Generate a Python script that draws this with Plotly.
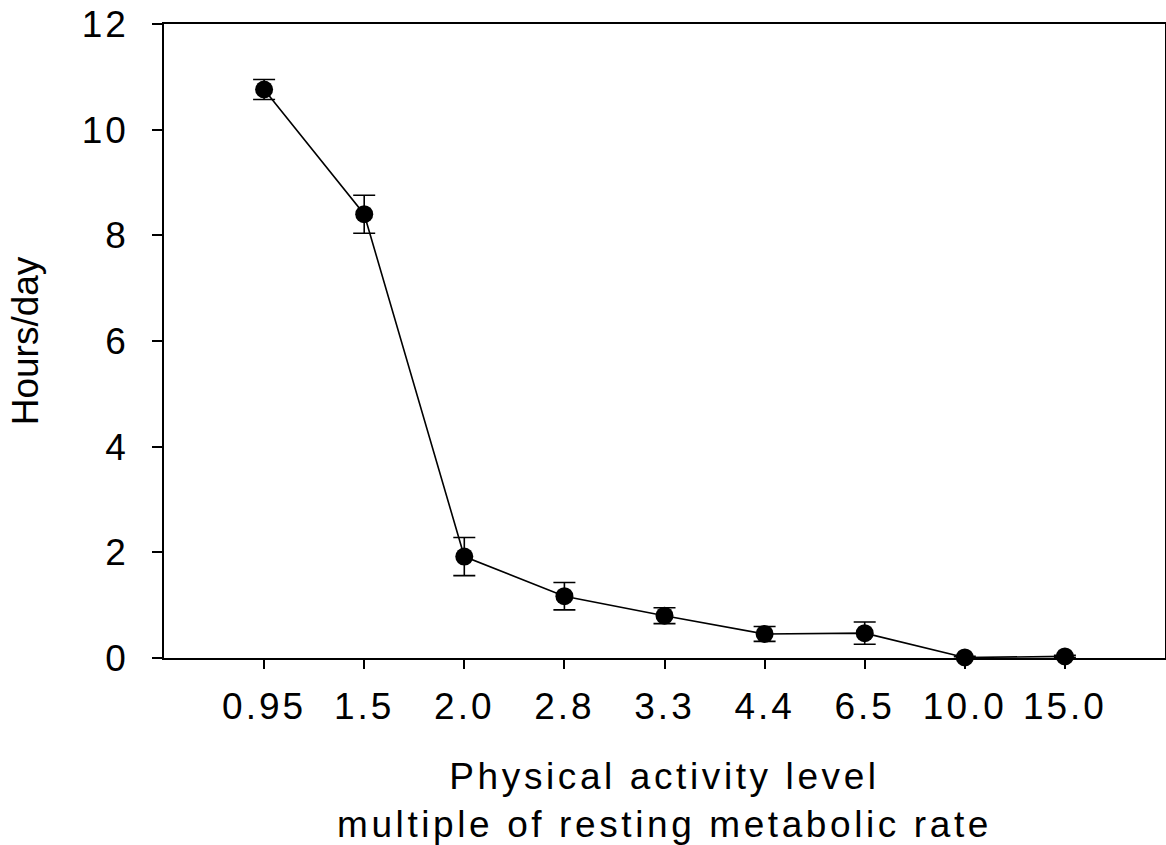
import plotly.graph_objects as go

categories = ["0.95", "1.5", "2.0", "2.8", "3.3", "4.4", "6.5", "10.0", "15.0"]
hours = [10.76, 8.40, 1.92, 1.17, 0.80, 0.455, 0.47, 0.01, 0.03]
errors = [0.19, 0.36, 0.36, 0.26, 0.15, 0.14, 0.21, 0.02, 0.02]
y_ticks = [0, 2, 4, 6, 8, 10, 12]

FONT = "Liberation Sans, Arial, sans-serif"

fig = go.Figure()
fig.add_trace(go.Scatter(
    x=categories,
    y=hours,
    mode="lines+markers",
    line=dict(color="black", width=1.6),
    marker=dict(color="black", size=18, symbol="circle"),
    error_y=dict(type="data", array=errors, visible=True,
                 color="black", thickness=1.6, width=11),
    cliponaxis=False,
    showlegend=False,
))

fig.update_layout(
    width=1166, height=845,
    margin=dict(l=164, r=1, t=24, b=187, autoexpand=False),
    paper_bgcolor="white",
    plot_bgcolor="white",
    font=dict(family=FONT, size=37, color="black"),
)

fig.update_xaxes(
    type="category",
    categoryorder="array",
    categoryarray=categories,
    range=[-1, 9],
    showgrid=False, zeroline=False,
    showline=True, linecolor="black", linewidth=1.6, mirror=True,
    ticks="outside", ticklen=9, tickwidth=1.6, tickcolor="black",
    ticklabelstandoff=6,
    tickfont=dict(family=FONT, size=37),
    title=dict(text="Physical activity level<br>multiple of resting metabolic rate",
               font=dict(family=FONT, size=37), standoff=50),
)

fig.update_yaxes(
    range=[0, 12],
    tickvals=y_ticks,
    ticktext=[str(v) for v in y_ticks],
    showgrid=False, zeroline=False,
    showline=True, linecolor="black", linewidth=1.6, mirror=True,
    ticks="outside", ticklen=10, tickwidth=1.6, tickcolor="black",
    ticklabelstandoff=16,
    tickfont=dict(family=FONT, size=37),
    title=dict(text="Hours/day", font=dict(family=FONT, size=37), standoff=38),
)

post_js = """
document.body.style.margin = '0';
var gd = document.getElementById('{plot_id}');
gd.querySelectorAll('.xtick text, .ytick text').forEach(function(e){ e.style.letterSpacing = '3px'; });
gd.querySelectorAll('.g-xtitle text').forEach(function(e){ e.style.letterSpacing = '3.6px'; });
"""

fig.write_html("out.html", post_script=post_js, config={"displayModeBar": False})
